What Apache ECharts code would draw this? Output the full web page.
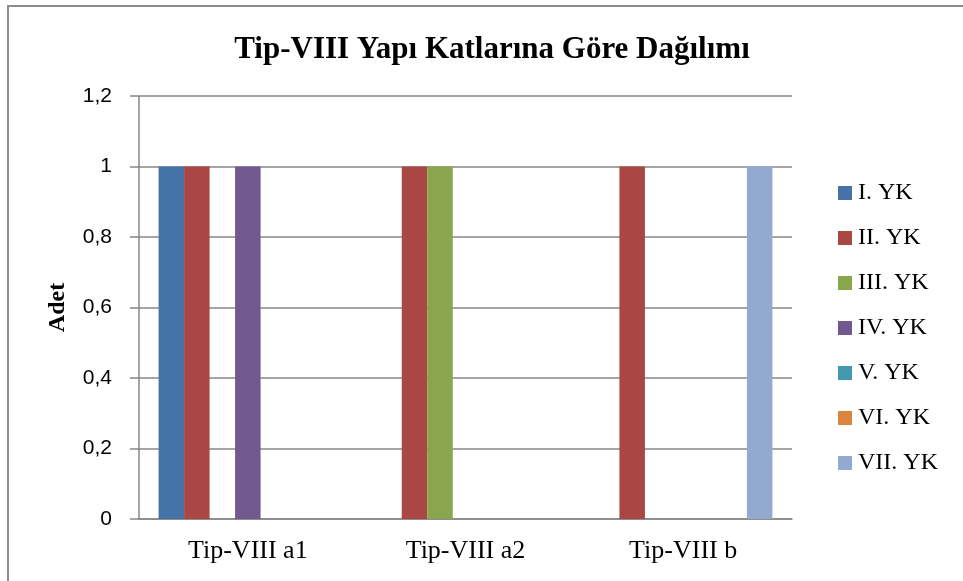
<!DOCTYPE html>
<html>
<head>
<meta charset="utf-8">
<script src="https://cdn.jsdelivr.net/npm/echarts@6/dist/echarts.min.js"></script>
<style>
  html, body { margin: 0; padding: 0; background: #fff; }
  #main { width: 963px; height: 581px; }
</style>
</head>
<body>
<div id="main"></div>
<script>
// chart data
const categories = ['Tip-VIII a1', 'Tip-VIII a2', 'Tip-VIII b'];
const seriesNames = ['I. YK', 'II. YK', 'III. YK', 'IV. YK', 'V. YK', 'VI. YK', 'VII. YK'];
const yk1 = [1, 0, 0];
const yk2 = [1, 1, 1];
const yk3 = [0, 1, 0];
const yk4 = [1, 0, 0];
const yk5 = [0, 0, 0];
const yk6 = [0, 0, 0];
const yk7 = [0, 0, 1];
const colors = ['#4572A7', '#AA4643', '#89A54E', '#71588F', '#4198AF', '#DB843D', '#93A9CF'];

const values = [yk1, yk2, yk3, yk4, yk5, yk6, yk7];
const gridColor = '#878787';

const myChart = echarts.init(document.getElementById('main'));

const option = {
  backgroundColor: '#fff',
  animation: false,
  color: colors,
  title: {
    text: 'Tip-VIII Yapı Katlarına Göre Dağılımı',
    left: 487,
    textAlign: 'center',
    top: 29,
    textStyle: {
      fontFamily: 'Liberation Serif',
      fontWeight: 'bold',
      fontSize: 31,
      color: '#000',
    },
  },
  graphic: [
    {
      type: 'rect',
      shape: { x: 8, y: 6, width: 1200, height: 900 },
      style: { fill: 'none', stroke: '#8c8c8c', lineWidth: 2 },
      silent: true,
    },
  ],
  legend: {
    orient: 'vertical',
    left: 833,
    top: 176,
    itemWidth: 14,
    itemHeight: 14,
    itemGap: 21,
    icon: 'rect',
    textStyle: {
      fontFamily: 'Liberation Serif',
      fontSize: 24,
      lineHeight: 22,
      color: '#000',
      padding: [0, 0, 0, 1],
    },
    data: seriesNames,
  },
  grid: {
    left: 139,
    right: 171,
    top: 96,
    bottom: 62,
    containLabel: false,
  },
  xAxis: {
    type: 'category',
    data: categories,
    axisLine: { show: true, lineStyle: { color: gridColor, width: 1.5 } },
    axisTick: { show: false },
    axisLabel: {
      margin: 19,
      fontFamily: 'Liberation Serif',
      fontSize: 26,
      color: '#000',
    },
  },
  yAxis: {
    type: 'value',
    min: 0,
    max: 1.2,
    interval: 0.2,
    name: 'Adet',
    nameLocation: 'middle',
    nameRotate: 90,
    nameGap: 69,
    nameTextStyle: {
      fontFamily: 'Liberation Serif',
      fontWeight: 'bold',
      fontSize: 24,
      color: '#000',
    },
    axisLine: { show: true, lineStyle: { color: gridColor, width: 1.5 } },
    axisTick: { show: true, length: 9, lineStyle: { color: gridColor, width: 1.5 } },
    splitLine: { show: true, lineStyle: { color: gridColor, width: 1.5 } },
    axisLabel: {
      margin: 27,
      fontFamily: 'Liberation Sans',
      fontSize: 21,
      color: '#000',
      formatter: (v) => String(Math.round(v * 10) / 10).replace('.', ','),
    },
  },
  series: seriesNames.map((name, i) => ({
    name: name,
    type: 'bar',
    barGap: 0,
    barCategoryGap: '18%',
    itemStyle: { color: colors[i] },
    data: values[i],
  })),
};

option && myChart.setOption(option);
</script>
</body>
</html>
